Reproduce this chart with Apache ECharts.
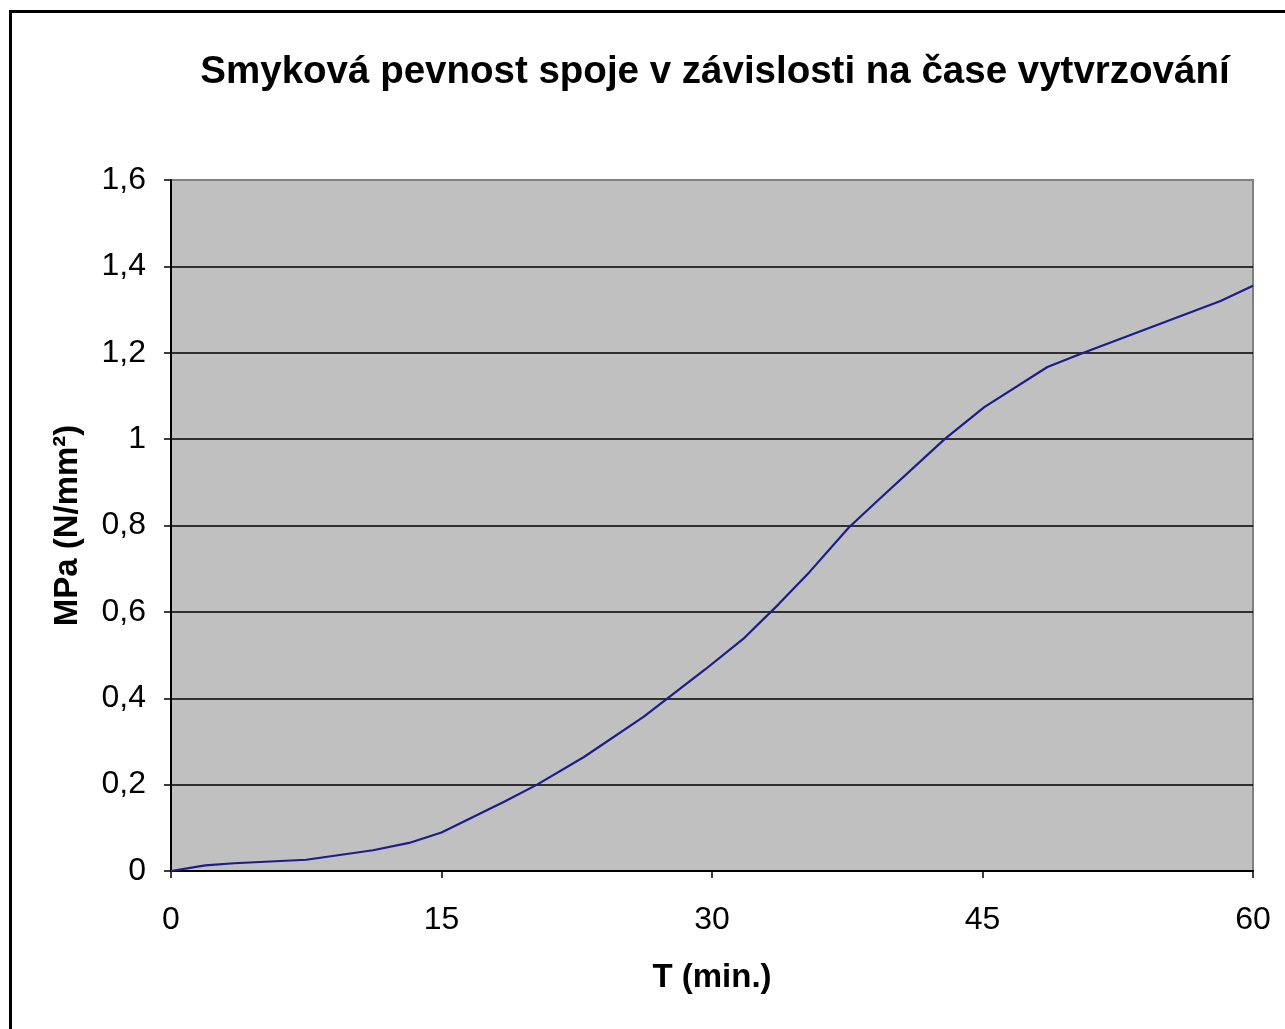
<!DOCTYPE html>
<html>
<head>
<meta charset="utf-8">
<script src="https://cdn.jsdelivr.net/npm/echarts@6/dist/echarts.min.js"></script>
<style>
  html, body { margin: 0; padding: 0; background: #fff; }
  #chart { width: 1285px; height: 1029px; }
</style>
</head>
<body>
<div id="chart"></div>
<script>
// cas vytvrzovani (min) a smykova pevnost (MPa)
var timeMin = [0, 1.9, 3.5, 7.5, 11.2, 13.2, 15, 18.5, 20.3, 22.9, 26.2, 29.6, 31.8, 33.7, 35.4, 37.6, 39.3, 42.9, 45.1, 48.6, 50.6, 58.2, 60];
var strength = [0, 0.013, 0.018, 0.026, 0.048, 0.065, 0.089, 0.161, 0.2, 0.264, 0.357, 0.466, 0.54, 0.618, 0.692, 0.796, 0.862, 1.0, 1.074, 1.167, 1.2, 1.32, 1.355];
var titleText = 'Smyková pevnost spoje v závislosti na čase vytvrzování';
var xName = 'T (min.)';
var yName = 'MPa (N/mm²)';

var chart = echarts.init(document.getElementById('chart'));

var seriesData = [];
for (var i = 0; i < timeMin.length; i++) {
    seriesData.push([timeMin[i], strength[i]]);
}

var font = 'Liberation Sans, Arial, sans-serif';

var option = {
    backgroundColor: '#fff',
    animation: false,
    title: {
        text: titleText,
        left: 710,
        textAlign: 'center',
        top: 48,
        textStyle: { fontFamily: font, fontSize: 38.5, fontWeight: 'bold', color: '#000' }
    },
    graphic: [{
        type: 'rect',
        shape: { x: 10.5, y: 11.5, width: 2000, height: 2000 },
        style: { fill: 'none', stroke: '#000', lineWidth: 3 },
        silent: true
    }],
    grid: {
        left: 171, right: 32, top: 180, bottom: 158,
        show: true,
        backgroundColor: '#c0c0c0',
        borderColor: '#808080',
        borderWidth: 2
    },
    xAxis: {
        type: 'value',
        min: 0, max: 60, interval: 15,
        name: xName,
        nameLocation: 'middle',
        nameGap: 90,
        nameTextStyle: { fontFamily: font, fontSize: 33, fontWeight: 'bold', color: '#000' },
        axisLine: { lineStyle: { color: '#000', width: 2 } },
        axisTick: { show: true, inside: false, length: 7, lineStyle: { color: '#000', width: 1.5 } },
        axisLabel: { fontFamily: font, fontSize: 32, color: '#000', margin: 33 },
        splitLine: { show: false }
    },
    yAxis: {
        type: 'value',
        min: 0, max: 1.6, interval: 0.2,
        name: yName,
        nameLocation: 'middle',
        nameGap: 87,
        nameTextStyle: { fontFamily: font, fontSize: 33, fontWeight: 'bold', color: '#000' },
        axisLine: { show: true, lineStyle: { color: '#000', width: 2 } },
        axisTick: { show: true, inside: false, length: 7, lineStyle: { color: '#000', width: 1.5 } },
        axisLabel: {
            fontFamily: font, fontSize: 32, color: '#000', margin: 25,
            formatter: function (v) {
                return String(Math.round(v * 10) / 10).replace('.', ',');
            }
        },
        splitLine: { show: true, showMaxLine: false, showMinLine: false, lineStyle: { color: '#000', width: 1.5 } }
    },
    series: [{
        type: 'line',
        data: seriesData,
        showSymbol: false,
        smooth: false,
        lineStyle: { color: '#1c1c8c', width: 2.2 }
    }]
};

chart.setOption(option);
</script>
</body>
</html>
